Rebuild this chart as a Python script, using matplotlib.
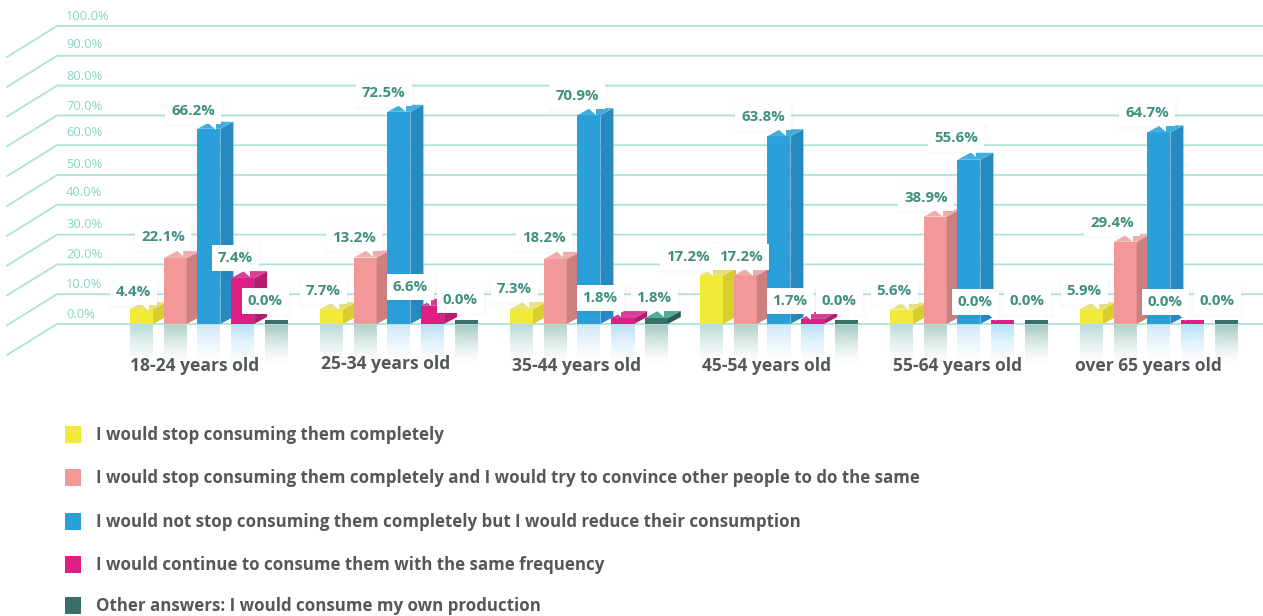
import numpy as np
import matplotlib
matplotlib.use('Agg')
import matplotlib.pyplot as plt
from matplotlib.colors import to_rgb
from matplotlib.patches import Polygon, Rectangle
from matplotlib.transforms import Affine2D

W, H = 1263, 616

GROUPS = ['18-24 years old', '25-34 years old', '35-44 years old',
          '45-54 years old', '55-64 years old', 'over 65 years old']
SERIES = ['I would stop consuming them completely',
          'I would stop consuming them completely and I would try to convince other people to do the same',
          'I would not stop consuming them completely but I would reduce their consumption',
          'I would continue to consume them with the same frequency',
          'Other answers: I would consume my own production']

# bar heights as drawn in the picture (they do not always agree with the printed labels)
stop_h = [5.0, 5.0, 5.0, 16.3, 4.8, 5.0]
convince_h = [22.1, 22.3, 21.8, 16.3, 36.0, 27.6]
reduce_h = [65.5, 71.2, 70.1, 63.0, 55.1, 64.3]
same_h = [15.4, 6.1, 2.0, 1.7, 0.0, 0.0]
other_h = [0.0, 0.0, 2.0, 0.0, 0.0, 0.0]

# printed labels
stop_lab = ['4.4%', '7.7%', '7.3%', '17.2%', '5.6%', '5.9%']
convince_lab = ['22.1%', '13.2%', '18.2%', '17.2%', '38.9%', '29.4%']
reduce_lab = ['66.2%', '72.5%', '70.9%', '63.8%', '55.6%', '64.7%']
same_lab = ['7.4%', '6.6%', '1.8%', '1.7%', '0.0%', '0.0%']
other_lab = ['0.0%', '0.0%', '1.8%', '0.0%', '0.0%', '0.0%']

TICKS = list(range(0, 101, 10))

FRONT = ['#f2ea36', '#f29898', '#2a9fda', '#dd1f85', '#3a6f68']
SIDE = ['#d8cf2e', '#cc8080', '#2689bf', '#b81c72', '#2b5a54']
TOP = ['#ece480', '#f0b0ae', '#3fb0e0', '#d94098', '#4fae9c']
REFLECT = ['#a9d3cf', '#9fc6bd', '#c4e4f5', '#a9daf5', '#8fbdb5']
GRID = '#aee2d9'

plt.rcParams['font.family'] = ['Open Sans', 'DejaVu Sans']

heights = [stop_h, convince_h, reduce_h, same_h, other_h]
labels = [stop_lab, convince_lab, reduce_lab, same_lab, other_lab]

# layout, pixels of the 1263x616 picture
PX_BASE, PX_STEP = 130.0, 190.0
BAR_W, BAR_GAP = 23 / PX_STEP, 33.7 / PX_STEP
DEPTH_X, DEPTH_Y = 13 / PX_STEP, 7 / 2.98
TICK_Y = [315, 285, 254, 224, 193, 165, 132, 106, 76, 45, 16]
CAT_Y = [366, 364, 366, 366, 366, 366]
LEGEND_Y = [435, 478, 522, 565, 606]
LABEL_XY = [
    [(133, 292), (323, 291), (514, 289), (688, 257), (894, 291), (1084, 291)],
    [(163, 237), (354, 238), (544, 238), (741, 257), (926, 198), (1112, 223)],
    [(193, 111), (384, 93), (577, 96), (763, 117), (956, 138), (1147, 113)],
    [(235, 258), (410, 287), (600, 298), (790, 301), (975, 302), (1165, 302)],
    [(265, 301), (460, 300), (654, 298), (839, 301), (1027, 301), (1217, 301)],
]

fig = plt.figure(figsize=(W / 100, H / 100), dpi=100)
ax = fig.add_axes([0, 0, 1, 1])
xlim = (-PX_BASE / PX_STEP, (W - PX_BASE) / PX_STEP)
ylim = ((324 - H) / 2.98, 324 / 2.98)
ax.axis('off')
px = Affine2D().scale(1, -1).translate(0, H)  # top-left pixel coords


def gx(p):
    return (p - PX_BASE) / PX_STEP


# grid: flat back line plus the slanted floor edge on the left
for t in TICKS:
    ax.plot([gx(7), gx(57), gx(W)], [t - 31 / 2.98, t, t], color=GRID, lw=1.3, zorder=1,
            solid_joinstyle='miter')
for t, y in zip(TICKS, TICK_Y):
    ax.text(66, y, f'{t:.1f}%', transform=px, color='#86d6c4', fontsize=9.3,
            va='center', ha='left', zorder=2)

# bars
for s in range(len(SERIES)):
    xs = np.arange(len(GROUPS)) + s * BAR_GAP
    hs = np.array(heights[s])
    z = 5 + s
    # reflection under the bars
    grad = np.ones((40, 2, 4))
    grad[..., :3] = to_rgb(REFLECT[s])
    grad[..., 3] = (0.8 * np.linspace(1, 0, 40) ** 1.5)[:, None]
    for x in xs:
        ax.imshow(grad, extent=(x, x + BAR_W, -14, -0.4), aspect='auto', zorder=3,
                  interpolation='bilinear')
    flat = hs == 0
    ax.bar(xs[flat], [1.2] * flat.sum(), BAR_W, align='edge', color=FRONT[s], zorder=z)
    ax.bar(xs[~flat], hs[~flat], BAR_W, align='edge', color=FRONT[s], zorder=z)
    for x, h in zip(xs[~flat], hs[~flat]):
        r = x + BAR_W
        ax.add_patch(Polygon([(r, 0), (r + DEPTH_X, DEPTH_Y), (r + DEPTH_X, h + DEPTH_Y), (r, h)],
                             fc=SIDE[s], ec='none', zorder=z))
        ax.add_patch(Polygon([(x, h), (r, h), (r + DEPTH_X, h + DEPTH_Y), (x + DEPTH_X, h + DEPTH_Y)],
                             fc=TOP[s], ec='none', zorder=z))

# value labels: white call-outs with a small tail and a soft shadow
for s in range(len(SERIES)):
    for g in range(len(GROUPS)):
        cx, cy = LABEL_XY[s][g]
        txt = labels[s][g]
        bw = 56 if len(txt) == 5 else 47
        bh = 26
        for grow, a in [(3, 0.012), (1.5, 0.015)]:
            ax.add_patch(Rectangle((cx - bw / 2 - grow + 1, cy - bh / 2 - grow + 1),
                                   bw + 2 * grow, bh + 2 * grow, transform=px,
                                   fc='#555555', ec='none', alpha=a, zorder=20))
        tail = 130 + g * PX_STEP + s * 33.7 + 16
        tail = min(max(tail, cx - bw / 2 + 6), cx + bw / 2 - 6)
        ax.add_patch(Rectangle((cx - bw / 2, cy - bh / 2), bw, bh, transform=px,
                               fc='white', ec='none', zorder=21))
        ax.add_patch(Polygon([(tail - 5, cy + bh / 2 - 1), (tail + 3, cy + bh / 2 - 1),
                              (tail + 3, cy + bh / 2 + 6)], transform=px,
                             fc='white', ec='none', zorder=21))
        ax.text(cx, cy, txt, transform=px, color='#3f8f7e', fontsize=10.8, fontweight='bold',
                ha='center', va='center', zorder=22)

# category names
for g, name in enumerate(GROUPS):
    ax.text(195 + g * 190.6, CAT_Y[g], name, transform=px, color='#555759', fontsize=12.6,
            fontweight='bold', ha='center', va='center', zorder=23)

# legend
for s, name in enumerate(SERIES):
    y = LEGEND_Y[s]
    ax.add_patch(Rectangle((65, y - 9), 16, 17, transform=px, fc=FRONT[s], ec='none'))
    ax.text(96, y, name, transform=px, color='#555759', fontsize=12.2, fontweight='bold',
            ha='left', va='center')

ax.set_xlim(*xlim)
ax.set_ylim(*ylim)
fig.savefig('out.png', dpi=100)
